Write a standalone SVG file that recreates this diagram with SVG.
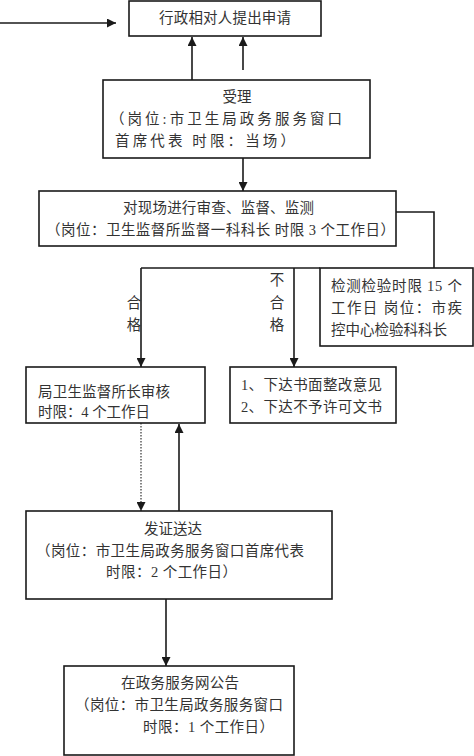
<svg xmlns="http://www.w3.org/2000/svg" width="474" height="756" viewBox="0 0 474 756">
<defs>
<style>
.box{fill:#fff;stroke:#1a1a1a;stroke-width:1.6}
.ln{fill:none;stroke:#1a1a1a;stroke-width:1.6}
.dot{fill:none;stroke:#333;stroke-width:1.2;stroke-dasharray:1.5 1.5}
text{font-family:"Liberation Serif","Noto Sans CJK SC",serif;font-size:14.5px;fill:#333}
</style>
<marker id="ah" viewBox="0 0 10 10" refX="10" refY="5" markerWidth="9" markerHeight="9" markerUnits="userSpaceOnUse" orient="auto">
<path d="M0,0 L10,5 L0,10 z" fill="#1a1a1a"/>
</marker>
</defs>
<g id="connectors">
<line class="ln" x1="0" y1="23" x2="116" y2="23" marker-end="url(#ah)"/>
<line class="ln" x1="192" y1="80" x2="192" y2="37" marker-end="url(#ah)"/>
<line class="ln" x1="243" y1="70" x2="243" y2="37" marker-end="url(#ah)"/>
<line class="ln" x1="243" y1="158" x2="243" y2="191" marker-end="url(#ah)"/>
<polyline class="ln" points="396,212 434,212 434,268"/>
<line class="ln" x1="141" y1="268" x2="320" y2="268"/>
<line class="ln" x1="141" y1="268" x2="141" y2="367" marker-end="url(#ah)"/>
<line class="ln" x1="294" y1="268" x2="294" y2="367" marker-end="url(#ah)"/>
<line class="dot" x1="141" y1="423" x2="141" y2="511" marker-end="url(#ah)"/>
<line class="ln" x1="179" y1="511" x2="179" y2="424" marker-end="url(#ah)"/>
<line class="ln" x1="166" y1="599" x2="166" y2="666" marker-end="url(#ah)"/>
<text x="134" y="308" text-anchor="middle">合</text>
<text x="134" y="330" text-anchor="middle">格</text>
<text x="277" y="285" text-anchor="middle">不</text>
<text x="277" y="308" text-anchor="middle">合</text>
<text x="277" y="330" text-anchor="middle">格</text>
</g>
<g id="n1">
<rect class="box" x="129" y="1" width="192" height="35"/>
<text x="159" y="23" textLength="132" lengthAdjust="spacing">行政相对人提出申请</text>
</g>
<g id="n2">
<rect class="box" x="103" y="80" width="267" height="78"/>
<text x="237" y="102" text-anchor="middle">受理</text>
<text x="110" y="124" textLength="232" lengthAdjust="spacing">（岗位:市卫生局政务服务窗口</text>
<text x="115" y="146" textLength="180" lengthAdjust="spacing">首席代表  时限：当场）</text>
</g>
<g id="n3">
<rect class="box" x="39" y="191" width="357" height="55"/>
<text x="123" y="213" textLength="191" lengthAdjust="spacing">对现场进行审查、监督、监测</text>
<text x="46" y="235" textLength="349" lengthAdjust="spacing">（岗位：卫生监督所监督一科科长  时限 3 个工作日）</text>
</g>
<g id="n4">
<rect class="box" x="320" y="268" width="153" height="78"/>
<text x="331" y="291" textLength="131" lengthAdjust="spacing">检测检验时限 15 个</text>
<text x="331" y="313" textLength="131" lengthAdjust="spacing">工作日 岗位：市疾</text>
<text x="331" y="335" textLength="116" lengthAdjust="spacing">控中心检验科科长</text>
</g>
<g id="n5">
<rect class="box" x="26" y="367" width="179" height="56"/>
<text x="38" y="397" textLength="132" lengthAdjust="spacing">局卫生监督所长审核</text>
<text x="38" y="417" textLength="112" lengthAdjust="spacing">时限：4 个工作日</text>
</g>
<g id="n6">
<rect class="box" x="230" y="367" width="166" height="56"/>
<text x="241" y="390" textLength="141" lengthAdjust="spacing">1、下达书面整改意见</text>
<text x="241" y="412" textLength="141" lengthAdjust="spacing">2、下达不予许可文书</text>
</g>
<g id="n7">
<rect class="box" x="26" y="511" width="306" height="88"/>
<text x="144" y="534" textLength="58" lengthAdjust="spacing">发证送达</text>
<text x="36" y="556" textLength="268" lengthAdjust="spacing">（岗位：市卫生局政务服务窗口首席代表</text>
<text x="106" y="577" textLength="131" lengthAdjust="spacing">时限：2 个工作日）</text>
</g>
<g id="n8">
<rect class="box" x="64" y="666" width="230" height="89"/>
<text x="121" y="688" textLength="118" lengthAdjust="spacing">在政务服务网公告</text>
<text x="75" y="710" textLength="208" lengthAdjust="spacing">（岗位：市卫生局政务服务窗口</text>
<text x="143" y="732" textLength="131" lengthAdjust="spacing">时限：1 个工作日）</text>
</g>
</svg>
